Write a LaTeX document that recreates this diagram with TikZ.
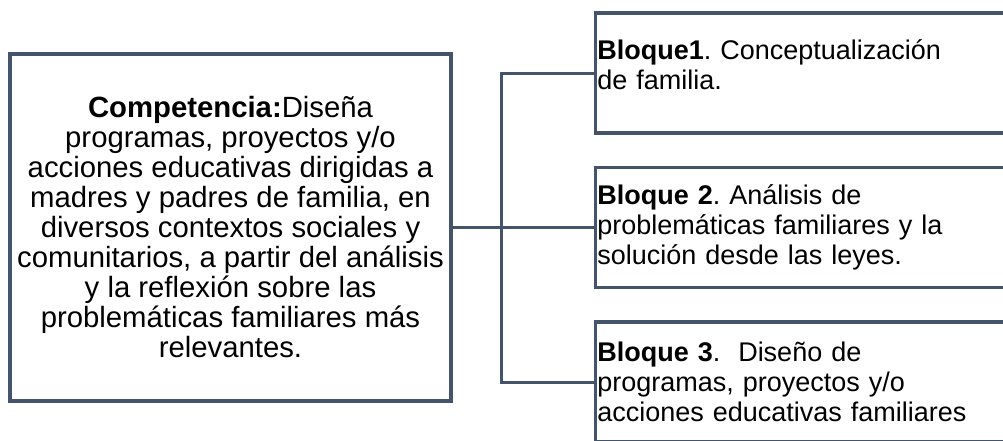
\documentclass[tikz,border=0pt]{standalone}
\usepackage{fontspec}
\setmainfont{Liberation Sans}
\usetikzlibrary{calc,positioning}
\definecolor{boxline}{HTML}{44546A}
\frenchspacing

\begin{document}
\begin{tikzpicture}[x=1pt,y=-1pt,
    caja/.style={draw=boxline,line width=3.5pt,font=\fontsize{27}{30}\selectfont},
    bloque/.style={caja,anchor=west,minimum height=120pt,text width=426pt,inner xsep=2pt,align=left},
    enlace/.style={draw=boxline,line width=3pt}]
    \clip (0,0) rectangle (1003,440);

    % Competencia
    \node[caja,font=\fontsize{29.3}{30}\selectfont,minimum width=441pt,minimum height=347pt,align=center,inner sep=0pt] (comp) at (230.5,227.5)
        {\textbf{Competencia:}Diseña\\programas, proyectos y/o\\acciones educativas dirigidas a\\madres y padres de familia, en\\diversos contextos sociales y\\comunitarios, a partir del análisis\\y la reflexión sobre las\\problemáticas familiares más\\relevantes.};

    % Bloques
    \node[bloque] (bloque1) at (593.5,73) {\textbf{Bloque1}. Conceptualización\\de familia.\rule[-16pt]{0pt}{16pt}};
    \node[bloque] (bloque2) at (593.5,227.5) {\textbf{Bloque 2}. Análisis de\\problemáticas familiares y la\\solución desde las leyes.};
    \node[bloque] (bloque3) at (593.5,382) {\textbf{Bloque 3}.~ Diseño de\\programas, proyectos y/o\\acciones educativas familiares};

    % Enlaces
    \coordinate (split) at (501,227.5);
    \draw[enlace] (comp.east) -- (bloque2.west);
    \draw[enlace] (bloque1.west) -- (bloque1.west -| split) -- (bloque3.west -| split) -- (bloque3.west);
\end{tikzpicture}
\end{document}
